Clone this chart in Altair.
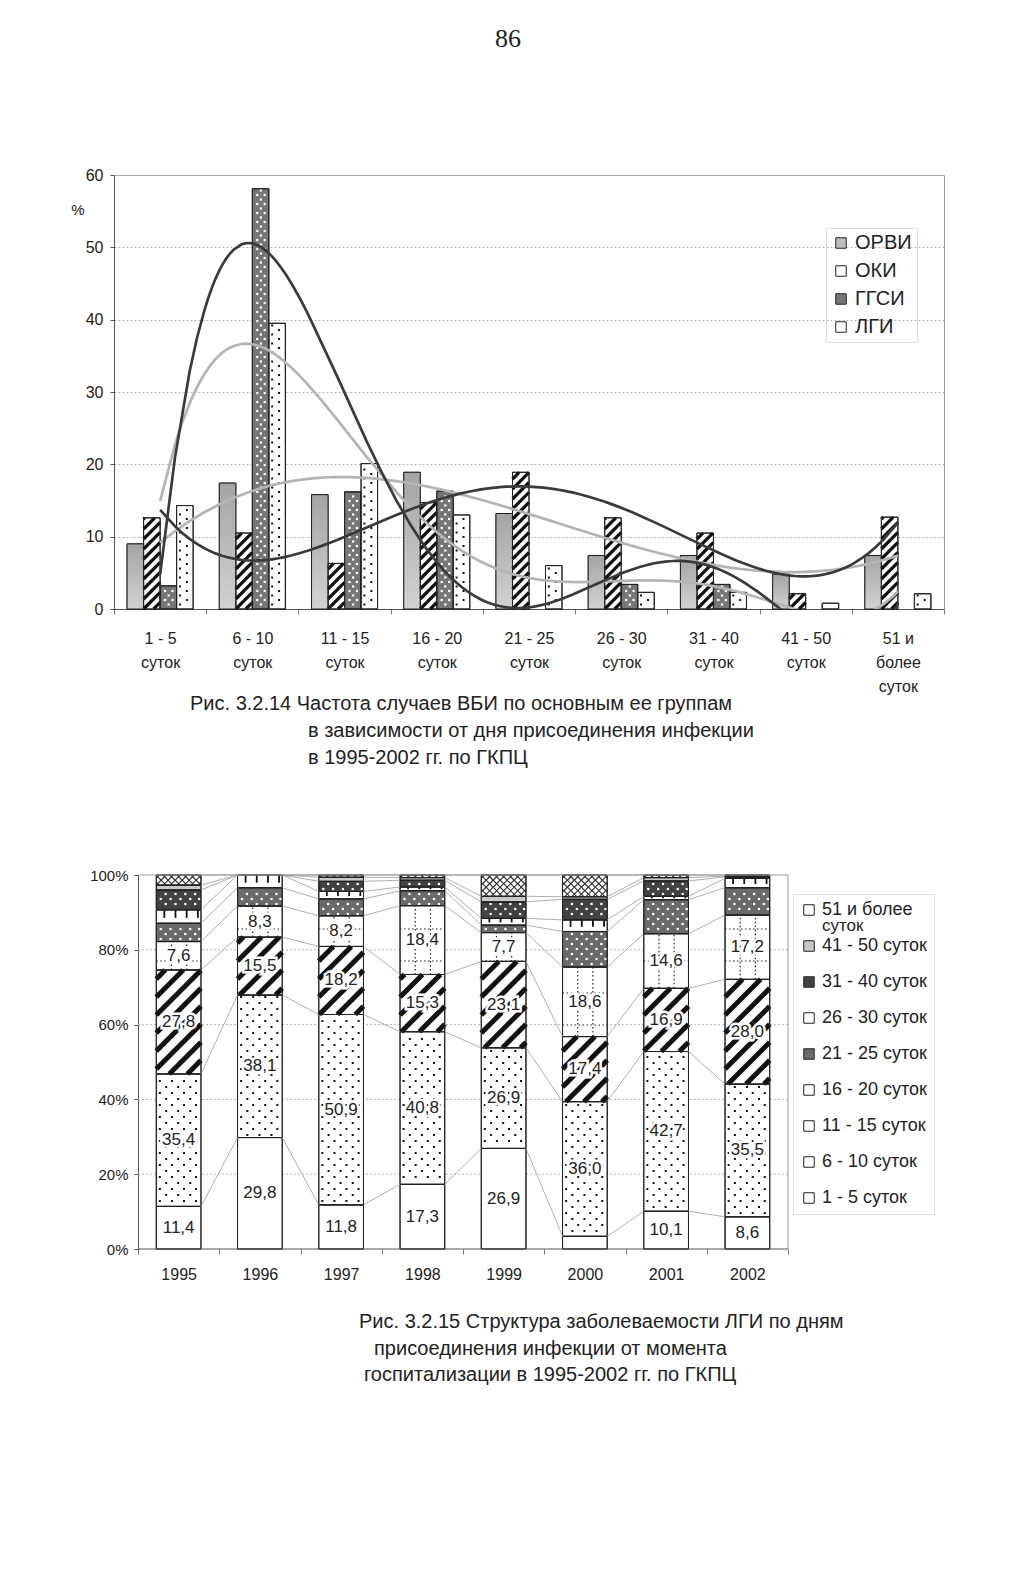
import json
import numpy as np
import pandas as pd
import altair as alt

# ---------------- texts ----------------
page_number = "86"
caption1 = ["Рис. 3.2.14 Частота случаев ВБИ по основным ее группам",
            "в зависимости от дня присоединения инфекции",
            "в 1995-2002 гг. по ГКПЦ"]
caption2 = ["Рис. 3.2.15 Структура заболеваемости ЛГИ по дням",
            "присоединения инфекции от момента",
            "госпитализации в 1995-2002 гг. по ГКПЦ"]

# ---------------- chart 1 data ----------------
periods = ["1 - 5 суток", "6 - 10 суток", "11 - 15 суток", "16 - 20 суток", "21 - 25 суток",
           "26 - 30 суток", "31 - 40 суток", "41 - 50 суток", "51 и более суток"]
period_axis_lines = [["1 - 5", "суток"], ["6 - 10", "суток"], ["11 - 15", "суток"],
                     ["16 - 20", "суток"], ["21 - 25", "суток"], ["26 - 30", "суток"],
                     ["31 - 40", "суток"], ["41 - 50", "суток"], ["51 и", "более", "суток"]]
infection_groups = ["ОРВИ", "ОКИ", "ГГСИ", "ЛГИ"]
orvi = [9.0, 17.4, 15.8, 18.9, 13.2, 7.4, 7.4, 4.8, 7.4]
oki = [12.6, 10.5, 6.3, 14.7, 18.9, 12.6, 10.5, 2.1, 12.7]
ggsi = [3.2, 58.1, 16.2, 16.3, 0.0, 3.4, 3.4, 0.0, 0.0]
lgi = [14.3, 39.5, 20.1, 13.0, 6.0, 2.3, 2.3, 0.8, 2.1]
freq_ticks = [0, 10, 20, 30, 40, 50, 60]
trend_order = {"ОРВИ": 4, "ОКИ": 4, "ГГСИ": 5, "ЛГИ": 5}

# ---------------- chart 2 data ----------------
years = ["1995", "1996", "1997", "1998", "1999", "2000", "2001", "2002"]
d_1_5 = [11.4, 29.8, 11.8, 17.3, 26.9, 3.4, 10.1, 8.6]
d_6_10 = [35.4, 38.1, 50.9, 40.8, 26.9, 36.0, 42.7, 35.5]
d_11_15 = [27.8, 15.5, 18.2, 15.3, 23.1, 17.4, 16.9, 28.0]
d_16_20 = [7.6, 8.3, 8.2, 18.4, 7.7, 18.6, 14.6, 17.2]
d_21_25 = [4.9, 4.9, 4.5, 4.0, 2.0, 9.5, 9.1, 7.3]
d_26_30 = [3.6, 3.4, 2.0, 1.0, 1.8, 3.1, 0.9, 2.5]
d_31_40 = [5.3, 0.0, 2.7, 1.8, 4.4, 5.5, 4.1, 0.4]
d_41_50 = [1.3, 0.0, 1.1, 0.7, 1.5, 0.7, 0.9, 0.2]
d_51 = [2.7, 0.0, 0.6, 0.7, 5.7, 5.8, 0.7, 0.3]
pct_ticks = [0, 20, 40, 60, 80, 100]

# ---------------- layout constants ----------------
FONT = "Liberation Sans"
NARROW = "Liberation Sans Narrow, Liberation Sans"
INK = "#222222"
OX1, OY1, W1, H1 = 113, 174, 830, 434          # chart 1 plot (page px)
OXG, OY2, W2G, H2 = 113, 875, 674, 374         # chart 2 group origin (aligned with chart 1)
PLOT2_LEFT, PLOT2_W = 137, 650                 # chart 2 plot area
X1_DOM, Y1_DOM = [0.5, 9.5], [0, 60]
sx2 = PLOT2_W / 8.0
X2_DOM = [0.5 - (PLOT2_LEFT - OXG) / sx2, 8.5]
Y2_DOM = [0, 100]
sx1 = W1 / (X1_DOM[1] - X1_DOM[0]); sy1 = H1 / (Y1_DOM[1] - Y1_DOM[0])
sy2 = H2 / (Y2_DOM[1] - Y2_DOM[0])
BAR1 = 0.179
BAR2 = 0.55


# ---------------- pattern helpers (geometry in data units) ----------------
def hatch(x0, x1, y0, y1, sx, sy, gap_px, direction=1):
    segs = []
    if y1 - y0 <= 0:
        return segs
    w = x1 - x0
    rise = (w * sx) / sy
    step = gap_px / sy
    k0 = int(np.floor((y0 - rise) / step)) - 1
    k1 = int(np.ceil(y1 / step)) + 1
    for k in range(k0, k1 + 1):
        s = k * step
        if direction > 0:
            t_lo = max(0.0, (y0 - s) / rise)
            t_hi = min(1.0, (y1 - s) / rise)
            ya, yb = s + t_lo * rise, s + t_hi * rise
        else:
            t_lo = max(0.0, (s + rise - y1) / rise)
            t_hi = min(1.0, (s + rise - y0) / rise)
            ya, yb = s + rise - t_lo * rise, s + rise - t_hi * rise
        if t_hi - t_lo > 1e-6:
            segs.append(dict(hx=x0 + t_lo * w, hy=ya, hx2=x0 + t_hi * w, hy2=yb))
    return segs


def dots(x0, x1, y0, y1, sy, row_px, cols_even, cols_odd, pad_px=1.5):
    pts = []
    step = row_px / sy
    pad = pad_px / sy
    k0 = int(np.ceil((y0 + pad) / step))
    k1 = int(np.floor((y1 - pad) / step))
    for k in range(k0, k1 + 1):
        cols = cols_even if k % 2 == 0 else cols_odd
        for f in cols:
            pts.append(dict(px=x0 + f * (x1 - x0), py=k * step))
    return pts


dummy = pd.DataFrame({"k": [0]})


def free_text(txt, x, y, size, font=FONT, align="left"):
    return alt.Chart(dummy).mark_text(text=txt, align=align, baseline="middle", fontSize=size,
                                      font=font, color=INK).encode(x=alt.value(x), y=alt.value(y))


def anchor(x, y):
    return alt.Chart(dummy).mark_rule(color="white", strokeWidth=1).encode(
        x=alt.value(x), x2=alt.value(x + 1), y=alt.value(y))


# ---------------- chart 1 ----------------
series1 = {"ОРВИ": orvi, "ОКИ": oki, "ГГСИ": ggsi, "ЛГИ": lgi}
rows = []
for gi, g in enumerate(infection_groups):
    for pi, v in enumerate(series1[g]):
        c = pi + 1
        x0 = c - 2 * BAR1 + gi * BAR1
        rows.append(dict(series=g, idx=c, val=v, x0=x0, x1=x0 + BAR1))
bars1 = pd.DataFrame(rows)
bars1_pos = bars1[bars1.val > 0]

hatch1 = pd.DataFrame([s for _, r in bars1_pos[bars1_pos.series == "ОКИ"].iterrows()
                       for s in hatch(r.x0, r.x1, 0, r.val, sx1, sy1, 10, 1)])
dots_lgi = pd.DataFrame([p for _, r in bars1_pos[bars1_pos.series == "ЛГИ"].iterrows()
                         for p in dots(r.x0, r.x1, 0, r.val, sy1, 4.5, [0.62], [0.2])])
dots_ggsi = pd.DataFrame([p for _, r in bars1_pos[bars1_pos.series == "ГГСИ"].iterrows()
                          for p in dots(r.x0, r.x1, 0, r.val, sy1, 4.5, [0.3, 0.75], [0.52])])

xs1 = alt.Scale(domain=X1_DOM, nice=False, zero=False)
ys1 = alt.Scale(domain=Y1_DOM, nice=False, zero=False)

c1_base = alt.Chart(bars1_pos).mark_bar(stroke=INK, strokeWidth=1).encode(
    x=alt.X("x0:Q", scale=xs1, axis=alt.Axis(orient="bottom", values=[i + 0.5 for i in range(10)],
                                              labels=False, ticks=True, tickSize=5, tickColor="#777",
                                              domain=True, domainColor="#555", grid=False, title=None)),
    x2="x1:Q",
    y=alt.Y("val:Q", scale=ys1, axis=alt.Axis(orient="left", values=freq_ticks, grid=True,
                                               gridDash=[2, 2], gridColor="#b5b5b5",
                                               domainColor="#555", tickColor="#555",
                                               tickSize=4, labelFontSize=16, labelFont=NARROW,
                                               labelPadding=7, labelColor=INK, title=None)),
    y2=alt.datum(0),
    color=alt.Color("series:N", scale=alt.Scale(domain=infection_groups,
                                                range=["#bdbdbd", "#ffffff", "#767676", "#ffffff"]),
                    legend=alt.Legend(orient="none", legendX=712, legendY=53, title=None,
                                      symbolType="square", symbolSize=110, symbolStrokeColor=INK,
                                      symbolStrokeWidth=1, labelFontSize=20, labelFont=FONT,
                                      labelColor=INK, rowPadding=8, padding=5, labelOffset=4,
                                      strokeColor="#dddddd")),
)

c1_grad = alt.Chart(bars1_pos[bars1_pos.series == "ОРВИ"]).mark_bar(
    fill=alt.Gradient(gradient="linear",
                      stops=[alt.GradientStop(color="#a4a4a4", offset=0),
                             alt.GradientStop(color="#d2d2d2", offset=1)],
                      x1=0, x2=0, y1=0, y2=1)).encode(
    x=alt.X("x0:Q", scale=xs1, axis=None), x2="x1:Q",
    y=alt.Y("val:Q", scale=ys1, axis=None), y2=alt.datum(0))

c1_hatch = alt.Chart(hatch1).mark_rule(color="#111111", strokeWidth=3.2, strokeCap="butt").encode(
    x=alt.X("hx:Q", scale=xs1, axis=None), x2="hx2:Q",
    y=alt.Y("hy:Q", scale=ys1, axis=None), y2="hy2:Q")

c1_dots_l = alt.Chart(dots_lgi).mark_square(size=4, color="#111111", opacity=1).encode(
    x=alt.X("px:Q", scale=xs1, axis=None), y=alt.Y("py:Q", scale=ys1, axis=None))
c1_dots_g = alt.Chart(dots_ggsi).mark_square(size=5, color="#ffffff", opacity=1).encode(
    x=alt.X("px:Q", scale=xs1, axis=None), y=alt.Y("py:Q", scale=ys1, axis=None))

c1_outline = alt.Chart(bars1_pos).mark_bar(fillOpacity=0, stroke=INK, strokeWidth=1).encode(
    x=alt.X("x0:Q", scale=xs1, axis=None), x2="x1:Q",
    y=alt.Y("val:Q", scale=ys1, axis=None), y2=alt.datum(0))

label_expr1 = json.dumps(period_axis_lines, ensure_ascii=False) + "[round(datum.value) - 1]"
trend_color = {"ОРВИ": "#b4b4b4", "ОКИ": "#3a3a3a", "ГГСИ": "#3a3a3a", "ЛГИ": "#b4b4b4"}
trend_layers = []
for i, g in enumerate(["ОРВИ", "ЛГИ", "ОКИ", "ГГСИ"]):
    if i == 0:
        xax = alt.Axis(orient="bottom", values=list(range(1, 10)), ticks=False, domain=False,
                       grid=False, labelExpr=label_expr1, labelFontSize=16, labelFont=NARROW,
                       labelLineHeight=24, labelBaseline="top", labelPadding=21,
                       labelOverlap=False, labelFlush=False, labelColor=INK, title=None)
    else:
        xax = None
    trend_layers.append(
        alt.Chart(bars1).transform_filter(alt.FieldEqualPredicate(field="series", equal=g))
        .transform_regression("idx", "val", method="poly", order=trend_order[g])
        .mark_line(color=trend_color[g], strokeWidth=2.7, clip=True)
        .encode(x=alt.X("idx:Q", scale=xs1, axis=xax), y=alt.Y("val:Q", scale=ys1, axis=None))
    )

c1_texts = [
    free_text(page_number, 507 - OX1, 38 - OY1, 26, font="Liberation Serif", align="center"),
    free_text("%", 77 - OX1, 209 - OY1, 15, font=NARROW, align="center"),
    free_text(caption1[0], 189 - OX1, 703 - OY1, 20),
    free_text(caption1[1], 307 - OX1, 730 - OY1, 20),
    free_text(caption1[2], 307 - OX1, 757 - OY1, 20),
    anchor(8 - OX1, 8 - OY1),
    anchor(8 - OX1, 774 - OY1),
]

chart1 = alt.layer(c1_base, c1_grad, c1_hatch, c1_dots_l, c1_dots_g, c1_outline,
                   *trend_layers, *c1_texts).resolve_axis(x="independent", y="independent").properties(
    width=W1, height=H1, view=alt.ViewBackground(stroke="#999999", strokeWidth=1))

# ---------------- chart 2 ----------------
stage_values = [d_1_5, d_6_10, d_11_15, d_16_20, d_21_25, d_26_30, d_31_40, d_41_50, d_51]
rows2 = []
for yi, yr in enumerate(years):
    cum = 0.0
    for si, st in enumerate(periods):
        v = stage_values[si][yi]
        rows2.append(dict(year=yr, yidx=yi + 1, stage=st, sidx=si, v=v, y0=cum, y1=cum + v,
                          x0=yi + 1 - BAR2 / 2, x1=yi + 1 + BAR2 / 2))
        cum += v
seg2 = pd.DataFrame(rows2)
seg2_pos = seg2[seg2.v > 0]


def stage(si):
    return seg2_pos[seg2_pos.sidx == si]


# series lines between neighbouring columns
sl = []
for yi in range(len(years) - 1):
    a = seg2[seg2.yidx == yi + 1].reset_index(drop=True)
    b = seg2[seg2.yidx == yi + 2].reset_index(drop=True)
    for si in range(len(periods)):
        sl.append(dict(hx=a.x1[si], hy=a.y1[si], hx2=b.x0[si], hy2=b.y1[si]))
series_lines = pd.DataFrame(sl)

# patterns
black_rules, thick_rules, dotted_rules, thin_rules = [], [], [], []
for _, r in stage(2).iterrows():
    thick_rules += hatch(r.x0, r.x1, r.y0, r.y1, sx2, sy2, 18, 1)
for _, r in stage(3).iterrows():
    w = r.x1 - r.x0
    for f in [0.34, 0.68]:
        dotted_rules.append(dict(hx=r.x0 + f * w, hy=r.y0, hx2=r.x0 + f * w, hy2=r.y1))
    step = 32 / sy2
    k0 = int(np.ceil(r.y0 / step)); k1 = int(np.floor(r.y1 / step))
    for k in range(k0, k1 + 1):
        if r.y0 < k * step < r.y1:
            dotted_rules.append(dict(hx=r.x0, hy=k * step, hx2=r.x1, hy2=k * step))
for _, r in stage(5).iterrows():
    w = r.x1 - r.x0
    for f in [0.18, 0.43, 0.68, 0.93]:
        black_rules.append(dict(hx=r.x0 + f * w, hy=r.y1, hx2=r.x0 + f * w,
                                hy2=r.y1 - 0.6 * (r.y1 - r.y0)))
for _, r in stage(8).iterrows():
    thin_rules += hatch(r.x0, r.x1, r.y0, r.y1, sx2, sy2, 7, 1)
    thin_rules += hatch(r.x0, r.x1, r.y0, r.y1, sx2, sy2, 7, -1)

dots_black = pd.DataFrame([p for _, r in stage(1).iterrows()
                           for p in dots(r.x0, r.x1, r.y0, r.y1, sy2, 6,
                                         [0.08, 0.35, 0.62, 0.89], [0.22, 0.49, 0.76])])
dots_white = pd.DataFrame([p for si in (4, 6) for _, r in stage(si).iterrows()
                           for p in dots(r.x0, r.x1, r.y0, r.y1, sy2, 5,
                                         [0.1, 0.32, 0.54, 0.76, 0.96], [0.21, 0.43, 0.65, 0.87])])

xs2 = alt.Scale(domain=X2_DOM, nice=False, zero=False)
ys2 = alt.Scale(domain=Y2_DOM, nice=False, zero=False)

stage_fill = ["#ffffff", "#ffffff", "#ffffff", "#ffffff", "#6a6a6a", "#ffffff", "#424242",
              "#c8c8c8", "#ffffff"]
long_label = periods[-1]
long_head = " ".join(long_label.split(" ")[:3])
long_tail = long_label.split(" ")[3]
legend_expr2 = "datum.label == '" + long_label + "' ? '" + long_head + "' : datum.label"

c2_base = alt.Chart(seg2_pos).mark_bar(stroke=INK, strokeWidth=1).encode(
    x=alt.X("x0:Q", scale=xs2, axis=alt.Axis(orient="bottom", values=[i + 0.5 for i in range(9)],
                                              labels=False, ticks=True, tickSize=5, tickColor="#777",
                                              domain=False, grid=False, title=None)),
    x2="x1:Q",
    y=alt.Y("y1:Q", scale=ys2, axis=alt.Axis(orient="left", offset=-(PLOT2_LEFT - OXG),
                                              values=pct_ticks, labelExpr="datum.value + '%'",
                                              grid=False, domainColor="#555", tickColor="#555",
                                              tickSize=4, labelFontSize=15, labelFont=NARROW,
                                              labelPadding=6, labelColor=INK, title=None)),
    y2="y0:Q",
    color=alt.Color("stage:N", scale=alt.Scale(domain=periods, range=stage_fill),
                    legend=alt.Legend(orient="none", legendX=792 - OXG, legendY=19, title=None,
                                      values=list(reversed(periods)), labelExpr=legend_expr2,
                                      symbolType="square", symbolSize=110, symbolStrokeColor=INK,
                                      symbolStrokeWidth=1, labelFontSize=18, labelFont=FONT,
                                      labelColor=INK, rowPadding=18, padding=7,
                                      labelOffset=4, strokeColor="#dddddd")),
)


def rules(df, color, width, dash=None):
    kw = dict(color=color, strokeWidth=width, strokeCap="butt")
    if dash is not None:
        kw["strokeDash"] = dash
    return alt.Chart(pd.DataFrame(df)).mark_rule(**kw).encode(
        x=alt.X("hx:Q", scale=xs2, axis=None), x2="hx2:Q",
        y=alt.Y("hy:Q", scale=ys2, axis=None), y2="hy2:Q")


grid_df = pd.DataFrame({"t": pct_ticks})
c2_grid = alt.Chart(grid_df).transform_filter("datum.t > 0 && datum.t < 100").mark_rule(
    color="#b5b5b5", strokeDash=[2, 2], strokeWidth=1).encode(
    x=alt.X(datum=0.5, scale=xs2, axis=None), x2=alt.datum(8.5),
    y=alt.Y("t:Q", scale=ys2, axis=None))
c2_frame_top = alt.Chart(dummy).mark_rule(color="#999999", strokeWidth=1).encode(
    x=alt.X(datum=0.5, scale=xs2, axis=None), x2=alt.datum(8.5),
    y=alt.Y(datum=100, scale=ys2, axis=None))
c2_frame_right = alt.Chart(dummy).mark_rule(color="#999999", strokeWidth=1).encode(
    x=alt.X(datum=8.5, scale=xs2, axis=None),
    y=alt.Y(datum=0, scale=ys2, axis=None), y2=alt.datum(100))
c2_baseline = alt.Chart(dummy).mark_rule(color="#555555", strokeWidth=1).encode(
    x=alt.X(datum=0.5, scale=xs2, axis=None), x2=alt.datum(8.5),
    y=alt.Y(datum=0, scale=ys2, axis=None))

c2_thick = rules(thick_rules, "#111111", 5)
c2_black = rules(black_rules, "#111111", 1.8)
c2_dotted = rules(dotted_rules, "#222222", 1.2, [1.5, 2.5])
c2_thin = rules(thin_rules, "#333333", 1.1)
c2_dots_b = alt.Chart(dots_black).mark_square(size=4, color="#111111", opacity=1).encode(
    x=alt.X("px:Q", scale=xs2, axis=None), y=alt.Y("py:Q", scale=ys2, axis=None))
c2_dots_w = alt.Chart(dots_white).mark_square(size=5, color="#ffffff", opacity=1).encode(
    x=alt.X("px:Q", scale=xs2, axis=None), y=alt.Y("py:Q", scale=ys2, axis=None))
c2_outline = alt.Chart(seg2_pos).mark_bar(fillOpacity=0, stroke=INK, strokeWidth=1).encode(
    x=alt.X("x0:Q", scale=xs2, axis=None), x2="x1:Q",
    y=alt.Y("y1:Q", scale=ys2, axis=None), y2="y0:Q")
c2_series = rules(series_lines, "#9a9a9a", 0.8)

year_expr = json.dumps(years) + "[round(datum.value) - 1]"
lab_src = alt.Chart(seg2_pos[(seg2_pos.sidx < 4) & (seg2_pos.v >= 5)]).transform_calculate(
    ym="(datum.y0 + datum.y1) / 2",
    txt="replace(format(datum.v, '.1f'), '.', ',')")
c2_halo = lab_src.mark_text(fontSize=17, font=FONT, color="white", stroke="white",
                            strokeWidth=5, baseline="middle").encode(
    x=alt.X("yidx:Q", scale=xs2, axis=None), y=alt.Y("ym:Q", scale=ys2, axis=None), text="txt:N")
c2_labels = lab_src.mark_text(fontSize=17, font=FONT, color=INK, baseline="middle").encode(
    x=alt.X("yidx:Q", scale=xs2, axis=alt.Axis(orient="bottom", values=list(range(1, 9)),
                                                ticks=False, domain=False, grid=False,
                                                labelExpr=year_expr, labelFontSize=16,
                                                labelFont=NARROW, labelBaseline="top",
                                                labelPadding=17, labelColor=INK, title=None)),
    y=alt.Y("ym:Q", scale=ys2, axis=None),
    text="txt:N")

c2_texts = [
    free_text(long_tail, 821 - OXG, 926 - OY2, 17),
    free_text(caption2[0], 358 - OXG, 1322 - OY2, 20),
    free_text(caption2[1], 373 - OXG, 1349 - OY2, 20),
    free_text(caption2[2], 363 - OXG, 1375 - OY2, 20),
    anchor(8 - OXG, 782 - OY2),
]

chart2 = alt.layer(c2_grid, c2_base, c2_thick, c2_black, c2_dotted, c2_thin, c2_dots_b, c2_dots_w,
                   c2_outline, c2_series, c2_frame_top, c2_frame_right, c2_baseline,
                   c2_halo, c2_labels, *c2_texts).resolve_axis(
    x="independent", y="independent").properties(
    width=W2G, height=H2, view=alt.ViewBackground(stroke="transparent"))

chart = alt.concat(chart1, chart2, columns=1, spacing=5, bounds="full").resolve_scale(
    color="independent").properties(padding=0).configure(font=FONT)

chart.save("out.html", embed_options={"renderer": "svg", "actions": False})
